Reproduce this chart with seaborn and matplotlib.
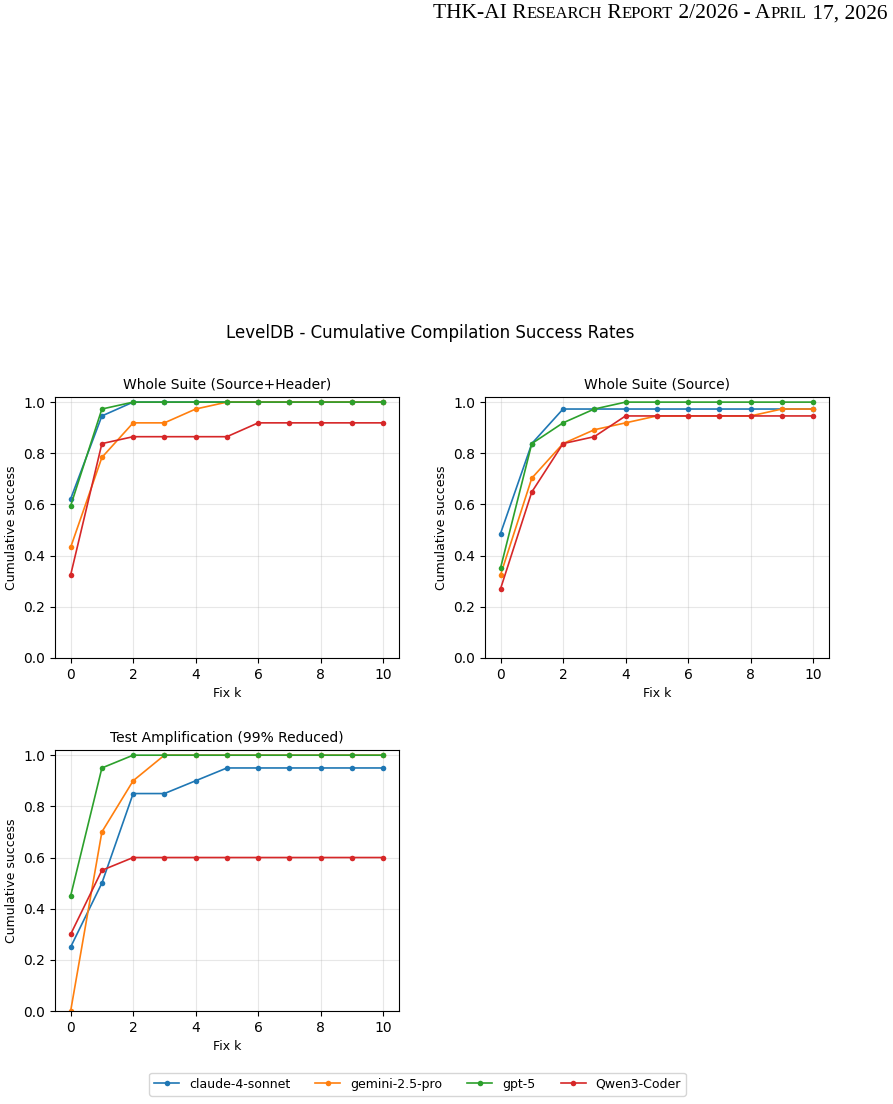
import numpy as np
import pandas as pd
import matplotlib
matplotlib.use("Agg")
import matplotlib.pyplot as plt
import seaborn as sns

fix_k = list(range(11))
models = ["claude-4-sonnet", "gemini-2.5-pro", "gpt-5", "Qwen3-Coder"]
colors = ["#1f77b4", "#ff7f0e", "#2ca02c", "#d62728"]

# Whole Suite (Source+Header), counts out of 37
src_hdr_claude = [23, 35, 37, 37, 37, 37, 37, 37, 37, 37, 37]
src_hdr_gemini = [16, 29, 34, 34, 36, 37, 37, 37, 37, 37, 37]
src_hdr_gpt5 = [22, 36, 37, 37, 37, 37, 37, 37, 37, 37, 37]
src_hdr_qwen = [12, 31, 32, 32, 32, 32, 34, 34, 34, 34, 34]

# Whole Suite (Source), counts out of 37
src_claude = [18, 31, 36, 36, 36, 36, 36, 36, 36, 36, 36]
src_gemini = [12, 26, 31, 33, 34, 35, 35, 35, 35, 36, 36]
src_gpt5 = [13, 31, 34, 36, 37, 37, 37, 37, 37, 37, 37]
src_qwen = [10, 24, 31, 32, 35, 35, 35, 35, 35, 35, 35]

# Test Amplification (99% Reduced), rates
amp_claude = [0.25, 0.50, 0.85, 0.85, 0.90, 0.95, 0.95, 0.95, 0.95, 0.95, 0.95]
amp_gemini = [0.00, 0.70, 0.90, 1.00, 1.00, 1.00, 1.00, 1.00, 1.00, 1.00, 1.00]
amp_gpt5 = [0.45, 0.95, 1.00, 1.00, 1.00, 1.00, 1.00, 1.00, 1.00, 1.00, 1.00]
amp_qwen = [0.30, 0.55, 0.60, 0.60, 0.60, 0.60, 0.60, 0.60, 0.60, 0.60, 0.60]


def to_long(series, scale=1.0):
    rows = []
    for name, vals in zip(models, series):
        for k, v in zip(fix_k, vals):
            rows.append({"Fix k": k, "rate": v / scale, "model": name})
    return pd.DataFrame(rows)


panels = [
    ("Whole Suite (Source+Header)", to_long([src_hdr_claude, src_hdr_gemini, src_hdr_gpt5, src_hdr_qwen], 37.0)),
    ("Whole Suite (Source)", to_long([src_claude, src_gemini, src_gpt5, src_qwen], 37.0)),
    ("Test Amplification (99% Reduced)", to_long([amp_claude, amp_gemini, amp_gpt5, amp_qwen])),
]

fig = plt.figure(figsize=(8.93, 11.04), dpi=100)
positions = [
    [0.0616, 0.404, 0.385, 0.2364],
    [0.543, 0.404, 0.385, 0.2364],
    [0.0616, 0.0842, 0.385, 0.2364],
]

for (title, df), pos in zip(panels, positions):
    ax = fig.add_axes(pos)
    sns.lineplot(data=df, x="Fix k", y="rate", hue="model", hue_order=models,
                 palette=colors, marker="o", markersize=4, markeredgewidth=0,
                 linewidth=1.2, ax=ax, legend=False)
    ax.set_title(title, fontsize=10)
    ax.set_xlabel("Fix k", fontsize=9)
    ax.set_ylabel("Cumulative success", fontsize=9)
    ax.set_ylim(0, 1.02)
    ax.set_xlim(-0.5, 10.5)
    ax.set_xticks([0, 2, 4, 6, 8, 10])
    ax.grid(True, alpha=0.3)
    ax.tick_params(labelsize=10)

fig.suptitle("LevelDB - Cumulative Compilation Success Rates", fontsize=12, x=0.4815, y=0.7065)

handles = [plt.Line2D([], [], color=c, marker="o", markersize=4, markeredgewidth=0, linewidth=1.2)
           for c in colors]
fig.legend(handles, models, loc="center", bbox_to_anchor=(0.4675, 0.0178), ncol=4,
           fontsize=9, frameon=True, handlelength=2.0, columnspacing=2.0)

# header line in small caps style
pieces = [("THK-AI R", 15.5), ("ESEARCH", 12), (" R", 15.5), ("EPORT", 12), (" 2/2026 - A", 15.5),
          ("PRIL", 12), (" 17, 2026", 15.5)]
renderer = fig.canvas.get_renderer()
texts = []
x = 0.0
for s, size in pieces:
    t = fig.text(x, 0.9835, s, fontsize=size, family="Liberation Serif", ha="left", va="baseline")
    texts.append(t)
    x += t.get_window_extent(renderer).width / fig.bbox.width
right = 887 / 893.0
shift = right - x
for t in texts:
    px, py = t.get_position()
    t.set_position((px + shift, py))

fig.savefig("out.png", dpi=100)
